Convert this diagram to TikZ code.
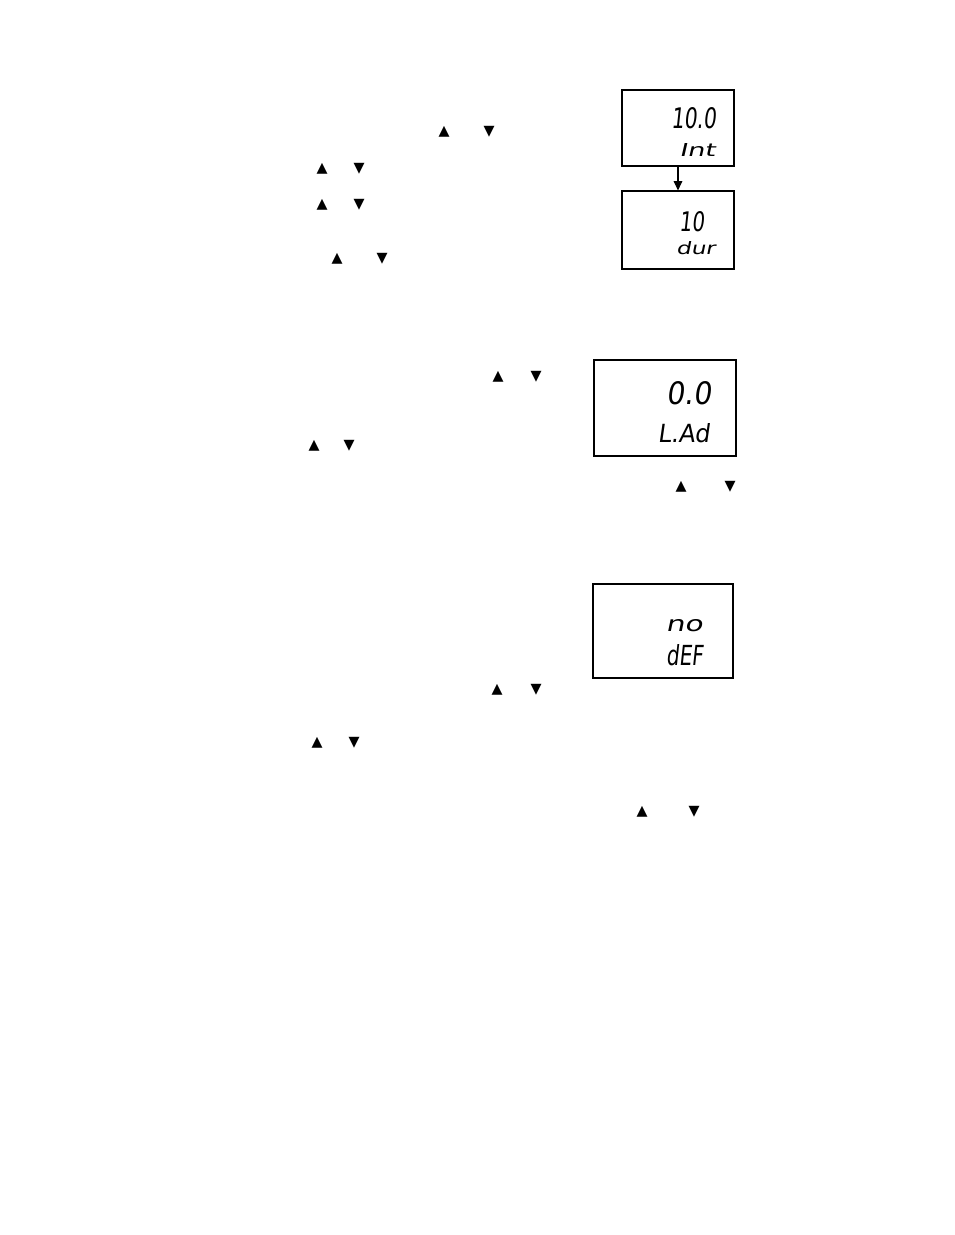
\documentclass[tikz,border=0pt]{standalone}
\usepackage{fontspec}
\usepackage{graphicx}
\usetikzlibrary{arrows.meta}
\newfontfamily\lcdfont[FakeSlant=0.15]{DejaVu Sans}
\newfontfamily\symfont{DejaVu Sans}
\newlength\px
\setlength\px{0.75pt}
\newcommand\lcdtxt[3]{\resizebox{#1\px}{#2\px}{\lcdfont #3}}
\newcommand\tri[1]{\resizebox{11\px}{!}{\symfont #1}}
\tikzset{
  lcdbox/.style={draw, line width=0.9pt, rectangle, inner sep=0pt},
  lcdlabel/.style={inner sep=0pt, outer sep=0pt},
  keytri/.style={inner sep=0pt, outer sep=0pt},
  flowarrow/.style={line width=0.8pt, -{Triangle[length=7pt,width=6.5pt]}}
}
\begin{document}
\begin{tikzpicture}[x=0.75pt, y=-0.75pt]
\fill[white] (0,0) rectangle (954,1235);
\useasboundingbox (0,0) rectangle (954,1235);

% display boxes
\node[lcdbox, minimum width=112\px, minimum height=76\px] (b1) at (678,128) {};
\node[lcdbox, minimum width=112\px, minimum height=78\px] (b2) at (678,230) {};
\node[lcdbox, minimum width=142\px, minimum height=96\px] (b3) at (665,408) {};
\node[lcdbox, minimum width=140\px, minimum height=94\px] (b4) at (663,631) {};

\draw[flowarrow] (b1.south) -- (b2.north);

% display texts
\node[lcdlabel] (t1) at (693.5,118.5) {\lcdtxt{45}{21}{10.0}};
\node[lcdlabel] (t2) at (697,149.5) {\lcdtxt{36}{13}{Int}};
\node[lcdlabel] (t3) at (691.5,222) {\lcdtxt{25}{20}{10}};
\node[lcdlabel] (t4) at (695.5,248.5) {\lcdtxt{39}{13}{dur}};
\node[lcdlabel] (t5) at (688.5,393.5) {\lcdtxt{45}{23}{0.0}};
\node[lcdlabel] (t6) at (683.5,433.5) {\lcdtxt{52}{19}{L.Ad}};
\node[lcdlabel] (t7) at (684,626) {\lcdtxt{37}{12}{no}};
\node[lcdlabel] (t8) at (684.5,655.5) {\lcdtxt{37}{21}{dEF}};

% key symbols
\node[keytri] (u1) at (444,132) {\tri{▲}};
\node[keytri] (d1) at (489,132) {\tri{▼}};
\node[keytri] (u2) at (322,169) {\tri{▲}};
\node[keytri] (d2) at (359,169) {\tri{▼}};
\node[keytri] (u3) at (322,205) {\tri{▲}};
\node[keytri] (d3) at (359,205) {\tri{▼}};
\node[keytri] (u4) at (337,259) {\tri{▲}};
\node[keytri] (d4) at (382,259) {\tri{▼}};
\node[keytri] (u5) at (498,377) {\tri{▲}};
\node[keytri] (d5) at (536,377) {\tri{▼}};
\node[keytri] (u6) at (314,446) {\tri{▲}};
\node[keytri] (d6) at (349,446) {\tri{▼}};
\node[keytri] (u7) at (681,487) {\tri{▲}};
\node[keytri] (d7) at (730,487) {\tri{▼}};
\node[keytri] (u8) at (497,690) {\tri{▲}};
\node[keytri] (d8) at (536,690) {\tri{▼}};
\node[keytri] (u9) at (317,743) {\tri{▲}};
\node[keytri] (d9) at (354,743) {\tri{▼}};
\node[keytri] (u10) at (642,812) {\tri{▲}};
\node[keytri] (d10) at (694,812) {\tri{▼}};
\end{tikzpicture}
\end{document}
